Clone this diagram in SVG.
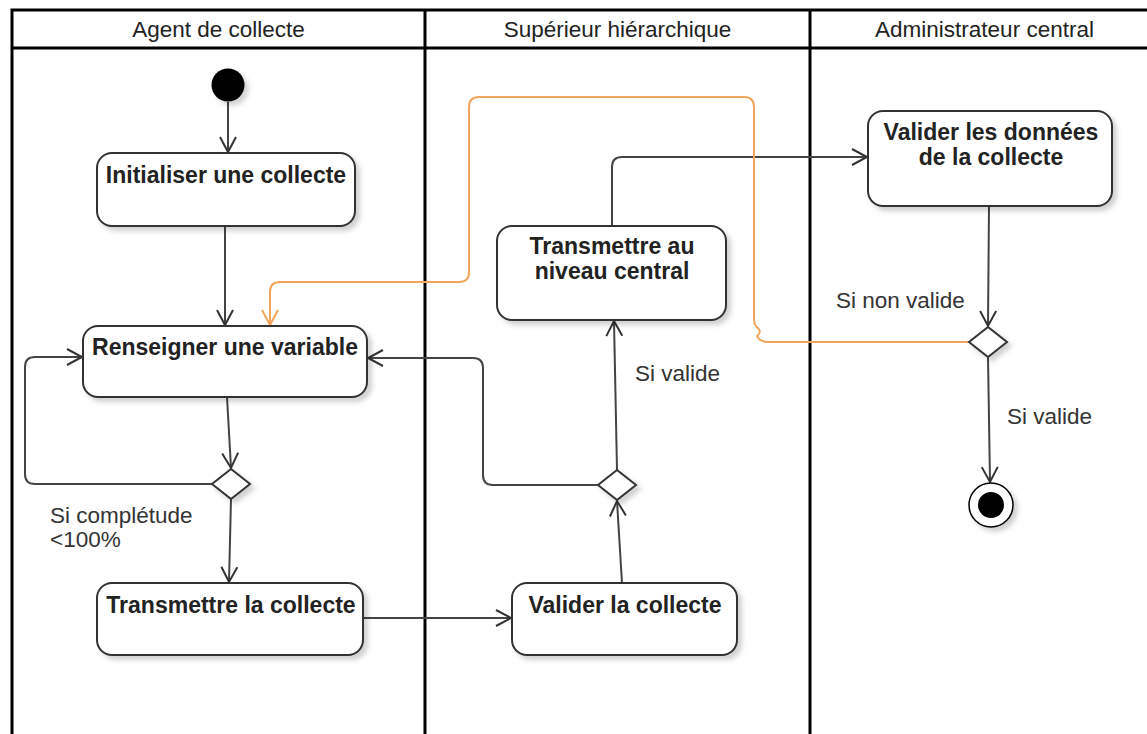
<svg xmlns="http://www.w3.org/2000/svg" width="1147" height="734" viewBox="0 0 1147 734">
<style>
.lane{stroke:#000;stroke-width:3;fill:none}
.hdr{font-family:"Liberation Sans",Arial,sans-serif;font-size:22.5px;fill:#222;text-anchor:middle}
.box{fill:#fff;stroke:#333;stroke-width:2;filter:url(#sh)}
.bt{font-family:"Liberation Sans",Arial,sans-serif;font-size:23px;font-weight:bold;fill:#222;text-anchor:middle}
.lbl{font-family:"Liberation Sans",Arial,sans-serif;font-size:22.5px;fill:#333}
.ln{stroke:#444;stroke-width:2;fill:none;marker-end:url(#arr)}
.or{stroke:#F0A55A;stroke-width:2;fill:none;marker-end:url(#arro)}
.dia{fill:#fff;stroke:#333;stroke-width:2;filter:url(#sh)}
</style>
<defs>
<filter id="sh" x="-20%" y="-20%" width="150%" height="150%">
<feDropShadow dx="4" dy="4" stdDeviation="2.5" flood-color="#000" flood-opacity="0.18"/>
</filter>
<marker id="arr" markerUnits="userSpaceOnUse" markerWidth="20" markerHeight="20" viewBox="0 0 20 20" refX="17" refY="10" orient="auto">
<path d="M2,2 L17,10 L2,18" fill="none" stroke="#333" stroke-width="2"/>
</marker>
<marker id="arro" markerUnits="userSpaceOnUse" markerWidth="20" markerHeight="20" viewBox="0 0 20 20" refX="17" refY="10" orient="auto">
<path d="M2,2 L17,10 L2,18" fill="none" stroke="#F0A55A" stroke-width="2"/>
</marker>
</defs>
<rect width="1147" height="734" fill="#fff"/>
<g id="pool">
<path class="lane" d="M12,740 V10 H1160 M12,48 H1160 M425,10 V740 M810,10 V740"/>
<text class="hdr" x="218.5" y="37">Agent de collecte</text>
<text class="hdr" x="617.5" y="37">Supérieur hiérarchique</text>
<text class="hdr" x="984.5" y="37">Administrateur central</text>
</g>
<g id="connectors">
<path class="ln" d="M228,102 V152"/>
<path class="ln" d="M225,226 V325"/>
<path class="ln" d="M227,397 L231,468"/>
<path class="ln" d="M212,484 H35 Q25,484 25,474 V367 Q25,357 35,357 H82"/>
<path class="ln" d="M231,499 L229,582"/>
<path class="ln" d="M363,618 H511"/>
<path class="ln" d="M622,583 L617,501"/>
<path class="ln" d="M598,485 H493 Q483,485 483,475 V368 Q483,358 473,358 H368"/>
<path class="ln" d="M617,470 L614,321"/>
<path class="ln" d="M612,226 V167 Q612,157 622,157 H867"/>
<path class="ln" d="M989,206 L988,326"/>
<path class="ln" d="M988,357 L990,482"/>
<path class="or" d="M969,342 H768 Q760,342 757,336 Q762,332 758,328 Q754,326 754,318 V107 Q754,97 744,97 H479 Q469,97 469,107 V272 Q469,282 459,282 H280 Q270,282 270,292 V325"/>
</g>
<g id="start"><circle cx="228" cy="85" r="16.5" fill="#000" filter="url(#sh)"/></g>
<g id="initialiser">
<rect class="box" x="97" y="153" width="258" height="73" rx="15"/>
<text class="bt" x="226" y="183">Initialiser une collecte</text>
</g>
<g id="renseigner">
<rect class="box" x="83" y="326" width="284" height="71" rx="15"/>
<text class="bt" x="225" y="355">Renseigner une variable</text>
</g>
<g id="decision1"><path class="dia" d="M231,469 L250,484 L231,499 L212,484 Z"/></g>
<g id="transmettre-collecte">
<rect class="box" x="97" y="583" width="266" height="72" rx="15"/>
<text class="bt" x="231" y="613">Transmettre la collecte</text>
</g>
<g id="valider-collecte">
<rect class="box" x="512" y="583" width="225" height="72" rx="15"/>
<text class="bt" x="625" y="613">Valider la collecte</text>
</g>
<g id="decision2"><path class="dia" d="M617,470 L636,485 L617,500 L598,485 Z"/></g>
<g id="transmettre-central">
<rect class="box" x="497" y="226" width="229" height="94" rx="15"/>
<text class="bt" x="612" y="254">Transmettre au</text>
<text class="bt" x="612" y="279">niveau central</text>
</g>
<g id="valider-donnees">
<rect class="box" x="868" y="111" width="244" height="95" rx="15"/>
<text class="bt" x="991" y="140">Valider les données</text>
<text class="bt" x="991" y="165">de la collecte</text>
</g>
<g id="decision3"><path class="dia" d="M988,327 L1007,342 L988,357 L969,342 Z"/></g>
<g id="end">
<circle cx="991" cy="505" r="22" fill="#fff" stroke="#000" stroke-width="1.5" filter="url(#sh)"/>
<circle cx="991" cy="505" r="13" fill="#000"/>
</g>
<g id="labels">
<text class="lbl" x="50" y="523">Si complétude</text>
<text class="lbl" x="50" y="547">&lt;100%</text>
<text class="lbl" x="635" y="381">Si valide</text>
<text class="lbl" x="836" y="308">Si non valide</text>
<text class="lbl" x="1007" y="424">Si valide</text>
</g>
</svg>
